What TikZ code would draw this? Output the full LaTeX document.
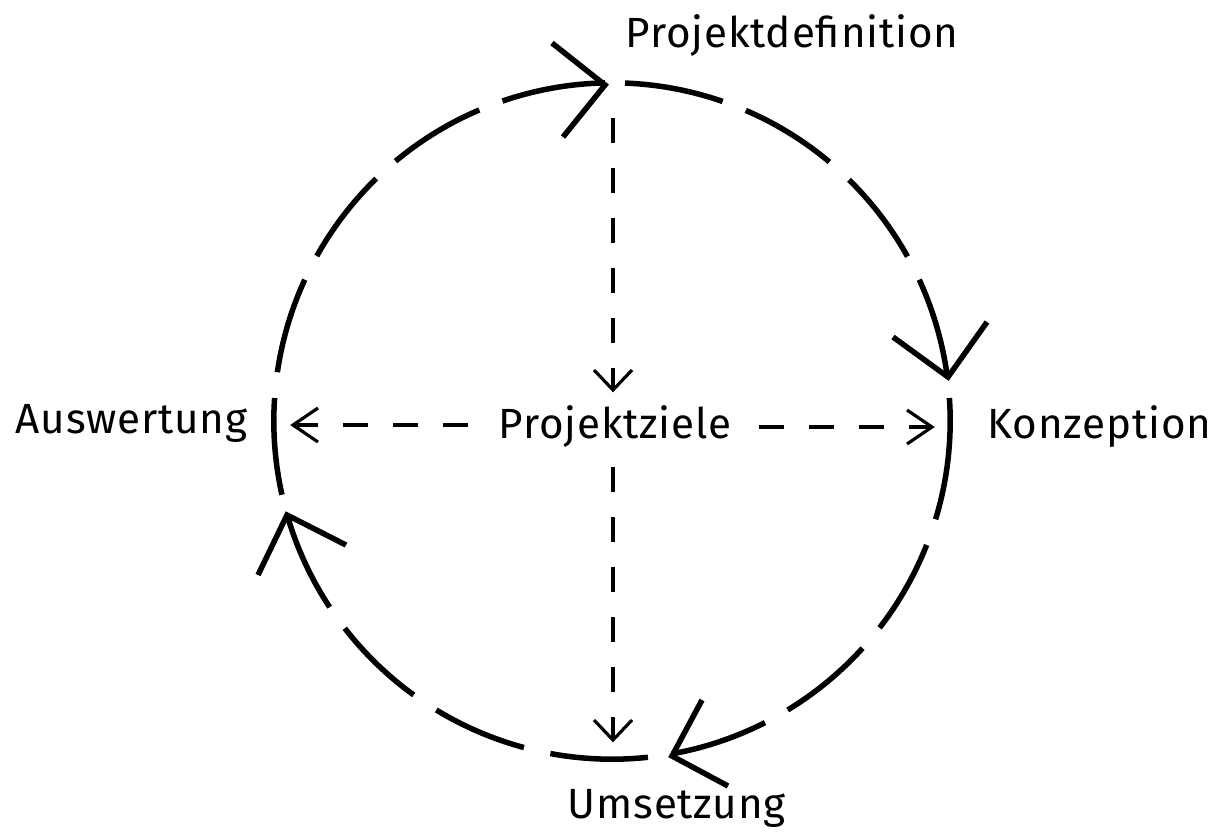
\documentclass[tikz,border=0pt]{standalone}
\usepackage{fontspec}
\setmainfont{Fira Sans}[LetterSpace=2]
\begin{document}
\begin{tikzpicture}[x=0.01cm,y=0.01cm,
  ring/.style={line width=0.055cm,line cap=butt},
  bighead/.style={line width=0.055cm,line cap=butt,miter limit=20},
  aim/.style={line width=0.9pt,dash pattern=on 0.25cm off 0.25cm},
  smallhead/.style={line width=0.9pt,line cap=butt},
  label/.style={anchor=base west,inner sep=0pt,font=\fontsize{12pt}{14pt}\selectfont}]
\useasboundingbox[fill=white] (0,0) rectangle (1215,838);
\coordinate (c) at (612,417);

% labels
\node[label] (ziele) at (498,400) {Projektziele};
\node[label] (def) at (625,791) {Projektdefinition};
\node[label] (konz) at (987,400) {Konzeption};
\node[label] (ausw) at (15,405) {Auswertung};
\node[label] (ums) at (567,20) {Umsetzung};

% dashed cycle, drawn clockwise dash by dash
\foreach \a/\b in {87.8/70.9, 66.7/50.0, 45.5/29.1, 24.7/7.8,
                   3.9/-16.9, -21.5/-37.7, -42.2/-58.7, -63.1/-79.8,
                   -83.9/-100.5, -105.1/-121.3, -125.9/-142.2, -146.6/-163.4,
                   192.6/176.1, 171.7/155.3, 150.8/134.2, 129.8/113.1, 108.9/91.2}
  \draw[ring] (c) ++(\a:3.38cm) arc[start angle=\a, end angle=\b, radius=3.38cm];

% open arrow heads on the cycle
\coordinate (tipT) at (605,753);
\coordinate (tipR) at (948,461);
\coordinate (tipB) at (672,82);
\coordinate (tipL) at (287,323);
\draw[bighead] (tipT) ++(-53,42) -- (tipT) -- ++(-42,-52);
\draw[bighead] (tipR) ++(-55,40) -- (tipR) -- ++(39,55);
\draw[bighead] (tipB) ++(30,56) -- (tipB) -- ++(56,-30);
\draw[bighead] (tipL) ++(-29,-60) -- (tipL) -- ++(59,-30);

% dashed arrows through the centre
\coordinate (vTop) at (613,720);
\coordinate (vTopEnd) at (613,448);
\coordinate (vBot) at (613,371);
\coordinate (vBotEnd) at (613,98);
\coordinate (hL) at (468,413);
\coordinate (hLEnd) at (293,413);
\coordinate (hR) at (759,411);
\coordinate (hREnd) at (932,411);
\draw[aim] (vTop) -- (vTopEnd);
\draw[aim] (vBot) -- (vBotEnd);
\draw[aim] (hL) -- (hLEnd);
\draw[aim] (hR) -- (hREnd);
\draw[smallhead] (vTopEnd) ++(-19,20) -- (vTopEnd) -- ++(19,20);
\draw[smallhead] (vBotEnd) ++(-19,20) -- (vBotEnd) -- ++(19,20);
\draw[smallhead] (hLEnd) ++(25,17) -- (hLEnd) -- ++(25,-17);
\draw[smallhead] (hREnd) ++(-25,17) -- (hREnd) -- ++(-25,-17);
\end{tikzpicture}
\end{document}
